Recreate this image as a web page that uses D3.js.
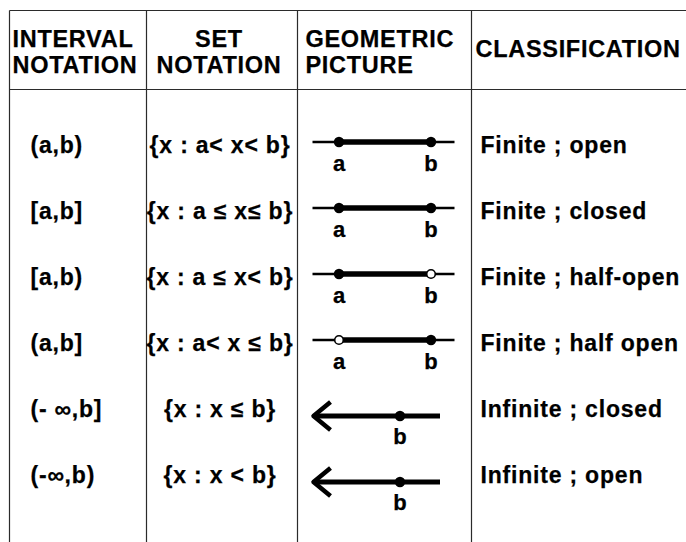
<!DOCTYPE html>
<html>
<head>
<meta charset="utf-8">
<script src="https://cdnjs.cloudflare.com/ajax/libs/d3/7.8.5/d3.min.js"></script>
<style>
body { margin: 0; background: #fff; }
svg text { font-family: "Liberation Sans", Arial, sans-serif; font-weight: bold; fill: #000; stroke: #000; stroke-width: 0.25px; }
</style>
</head>
<body>
<div id="tabla"></div>
<script>
// DATOS DE LA TABLA
var encabezados = [["INTERVAL", "NOTATION"], ["SET", "NOTATION"], ["GEOMETRIC", "PICTURE"], ["CLASSIFICATION"]];
var intervalos = ["(a,b)", "[a,b]", "[a,b)", "(a,b]", "(- ∞,b]", "(-∞,b)"];
var conjuntos = ["{x : a< x< b}", "{x : a ≤ x≤ b}", "{x : a ≤ x< b}", "{x : a< x ≤ b}", "{x : x ≤ b}", "{x : x < b}"];
var clasificacion = ["Finite ; open", "Finite ; closed", "Finite ; half-open", "Finite ; half open", "Infinite ; closed", "Infinite ; open"];
var tipo = ["segment", "segment", "segment", "segment", "ray", "ray"];
var extremoA = ["closed", "closed", "closed", "open", null, null];   // punto dibujado en a
var extremoB = ["closed", "closed", "open", "closed", "closed", "closed"]; // punto dibujado en b
var puntoA = 0, puntoB = 1; // valores de a y b sobre la recta

var width = 686, height = 542;
var colX = [9.5, 146.5, 297.5, 471.5, 686]; // bordes de columnas
var top0 = 10.5, headBottom = 89.5;

var svg = d3.select("#tabla")
    .append("svg")
    .attr("width", width)
    .attr("height", height);

// LINEAS DE LA TABLA
var lineas = svg.append("g")
    .attr("stroke", "#2b2b2b")
    .attr("stroke-width", 1.2);

lineas.selectAll("line.h")
    .data([top0, headBottom])
    .enter()
    .append("line")
    .attr("x1", colX[0]).attr("x2", width)
    .attr("y1", d => d).attr("y2", d => d);

lineas.selectAll("line.v")
    .data(colX.slice(0, 4))
    .enter()
    .append("line")
    .attr("x1", d => d).attr("x2", d => d)
    .attr("y1", top0).attr("y2", height);

// ENCABEZADOS
var headFont = 23.5, headSpacing = "0.7px";
function headText(x, y, txt, anchor) {
    svg.append("text")
        .attr("x", x)
        .attr("y", y)
        .attr("text-anchor", anchor || "start")
        .style("font-size", headFont + "px")
        .style("letter-spacing", headSpacing)
        .text(txt);
}
encabezados[0].forEach((t, i) => headText(colX[0] + 3, 47 + i * 26, t));
encabezados[1].forEach((t, i) => headText(219, 47 + i * 26, t, "middle"));
encabezados[2].forEach((t, i) => headText(colX[2] + 8, 47 + i * 26, t));
headText(colX[3] + 4, 57, encabezados[3][0]);

// FILAS
var filas = d3.range(intervalos.length);
var y = d3.scalePoint().domain(filas).range([145, 475]);

var bodyFont = 23, bodySpacing = "0.8px";

svg.selectAll("text.intervalo")
    .data(intervalos)
    .enter()
    .append("text")
    .attr("class", "intervalo")
    .attr("x", colX[0] + 21)
    .attr("y", (d, i) => y(i))
    .attr("dy", "0.35em")
    .style("font-size", bodyFont + "px")
    .style("letter-spacing", bodySpacing)
    .text(d => d);

svg.selectAll("text.conjunto")
    .data(conjuntos)
    .enter()
    .append("text")
    .attr("class", "conjunto")
    .attr("x", 220)
    .attr("y", (d, i) => y(i))
    .attr("dy", "0.35em")
    .attr("text-anchor", "middle")
    .style("font-size", bodyFont + "px")
    .style("letter-spacing", bodySpacing)
    .text(d => d);

svg.selectAll("text.clase")
    .data(clasificacion)
    .enter()
    .append("text")
    .attr("class", "clase")
    .attr("x", colX[3] + 9)
    .attr("y", (d, i) => y(i))
    .attr("dy", "0.35em")
    .style("font-size", bodyFont + "px")
    .style("letter-spacing", bodySpacing)
    .text(d => d);

// RECTA NUMERICA (columna geometric picture)
var xSeg = d3.scaleLinear().domain([puntoA, puntoB]).range([339, 431]);
var xRay = d3.scaleLinear().domain([puntoA, puntoB]).range([309, 400]);

filas.forEach(function(i) {
    var g = svg.append("g");
    if (tipo[i] == "segment") {
        var ly = y(i) - 3;
        g.append("line")
            .attr("x1", colX[2] + 15).attr("x2", colX[3] - 17)
            .attr("y1", ly).attr("y2", ly)
            .attr("stroke", "#000").attr("stroke-width", 2.5);
        g.append("line")
            .attr("x1", xSeg(puntoA)).attr("x2", xSeg(puntoB))
            .attr("y1", ly).attr("y2", ly)
            .attr("stroke", "#000").attr("stroke-width", 5.5);
        [[puntoA, extremoA[i], "a"], [puntoB, extremoB[i], "b"]].forEach(function(p) {
            g.append("circle")
                .attr("cx", xSeg(p[0])).attr("cy", ly)
                .attr("r", p[1] == "open" ? 4.3 : 5.2)
                .attr("fill", p[1] == "open" ? "#fff" : "#000")
                .attr("stroke", "#000").attr("stroke-width", p[1] == "open" ? 1.6 : 0);
            g.append("text")
                .attr("x", xSeg(p[0])).attr("y", ly + 29)
                .attr("text-anchor", "middle")
                .style("font-size", "22px")
                .text(p[2]);
        });
    } else {
        var ly = y(i) + 7;
        var tip = colX[2] + 16;
        g.append("line")
            .attr("x1", tip + 1).attr("x2", xRay(puntoB) + 40)
            .attr("y1", ly).attr("y2", ly)
            .attr("stroke", "#000").attr("stroke-width", 5);
        g.append("path")
            .attr("d", d3.line()([[tip + 17, ly - 14], [tip, ly], [tip + 17, ly + 14]]))
            .attr("fill", "none")
            .attr("stroke", "#000").attr("stroke-width", 4.5)
            .attr("stroke-linejoin", "round");
        g.append("circle")
            .attr("cx", xRay(puntoB)).attr("cy", ly)
            .attr("r", 5.2)
            .attr("fill", "#000");
        g.append("text")
            .attr("x", xRay(puntoB)).attr("y", ly + 28)
            .attr("text-anchor", "middle")
            .style("font-size", "22px")
            .text("b");
    }
});
</script>
</body>
</html>
